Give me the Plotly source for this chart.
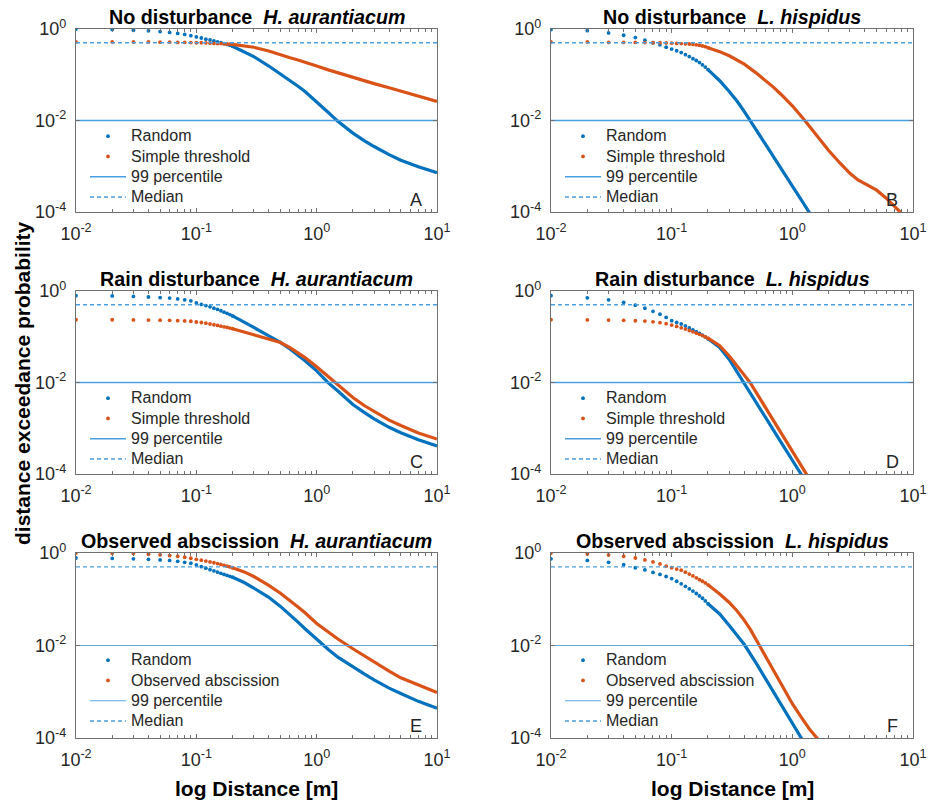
import plotly.graph_objects as go

W, H = 930, 801
FONT = "Liberation Sans"
BLUE = "#0072BD"
ORANGE = "#D95319"
REF = "#4A9FE0"
AXC = "#707070"
TXT = "#262626"

# ---------------- data ----------------
X_DOTS = [0.01, 0.02, 0.03, 0.04, 0.05, 0.06, 0.07, 0.08, 0.09, 0.10,
          0.11, 0.12, 0.13, 0.14, 0.15, 0.16, 0.17, 0.18, 0.19, 0.20]
X_LINE_FULL = [0.2, 0.25, 0.3, 0.4, 0.5, 0.6, 0.7, 0.8, 1.0, 1.25, 1.5, 2, 2.5, 3, 4, 5, 7, 10]

MEDIAN = 0.5
P99 = 0.01

# Panel A  No disturbance, H. aurantiacum
A_RAND_DOTS = [1.0, 0.97, 0.94, 0.91, 0.88, 0.84, 0.80, 0.76, 0.715, 0.67,
               0.635, 0.60, 0.575, 0.55, 0.525, 0.505, 0.48, 0.46, 0.44, 0.42]
A_RAND_LX = X_LINE_FULL
A_RAND_LY = [0.42, 0.32, 0.25, 0.155, 0.105, 0.075, 0.056, 0.043, 0.026, 0.015, 0.0096,
             0.0053, 0.0036, 0.0027, 0.0018, 0.00135, 0.00097, 0.00072]
A_THR_DOTS = [0.52, 0.52, 0.52, 0.52, 0.515, 0.515, 0.51, 0.51, 0.505, 0.50,
              0.50, 0.495, 0.49, 0.485, 0.48, 0.48, 0.475, 0.47, 0.465, 0.46]
A_THR_LX = X_LINE_FULL
A_THR_LY = [0.46, 0.43, 0.40, 0.33, 0.27, 0.235, 0.21, 0.19, 0.155, 0.128, 0.11,
            0.087, 0.074, 0.064, 0.052, 0.044, 0.034, 0.026]

# Panel B  No disturbance, L. hispidus
B_RAND_DOTS = [0.97, 0.92, 0.82, 0.73, 0.65, 0.57, 0.50, 0.45, 0.40, 0.365,
               0.335, 0.305, 0.275, 0.25, 0.225, 0.205, 0.185, 0.165, 0.147, 0.13]
B_RAND_LX = [0.2, 0.25, 0.3, 0.35, 0.4, 0.45, 0.5, 0.6, 0.7, 0.8, 1.0, 1.2, 1.4]
B_RAND_LY = [0.13, 0.074, 0.043, 0.026, 0.0156, 0.0099, 0.0063, 0.0030, 0.0016, 0.00092,
             0.00037, 0.000174, 0.000093]
B_THR_DOTS = [0.52, 0.52, 0.51, 0.51, 0.51, 0.505, 0.50, 0.50, 0.495, 0.49,
              0.485, 0.48, 0.475, 0.47, 0.46, 0.45, 0.44, 0.425, 0.41, 0.39]
B_THR_LX = [0.2, 0.25, 0.3, 0.35, 0.4, 0.5, 0.6, 0.7, 0.8, 1.0, 1.25, 1.5, 2, 2.5, 3,
            3.5, 4, 5, 6, 7, 8]
B_THR_LY = [0.39, 0.32, 0.26, 0.21, 0.17, 0.11, 0.075, 0.053, 0.038, 0.021, 0.0105, 0.0058,
            0.0022, 0.00115, 0.0007, 0.0005, 0.00041, 0.0003, 0.0002, 0.00013, 0.000095]

# Panel C  Rain disturbance, H. aurantiacum
C_RAND_DOTS = [0.79, 0.78, 0.76, 0.74, 0.72, 0.70, 0.67, 0.64, 0.61, 0.55,
               0.51, 0.48, 0.45, 0.42, 0.395, 0.37, 0.345, 0.325, 0.305, 0.285]
C_RAND_LX = X_LINE_FULL
C_RAND_LY = [0.285, 0.21, 0.16, 0.105, 0.075, 0.054, 0.040, 0.030, 0.018, 0.0098, 0.0065,
             0.0033, 0.0022, 0.0016, 0.00105, 0.00080, 0.00056, 0.00041]
C_THR_DOTS = [0.235, 0.235, 0.233, 0.232, 0.23, 0.228, 0.225, 0.222, 0.218, 0.21,
              0.205, 0.198, 0.19, 0.183, 0.177, 0.17, 0.165, 0.16, 0.155, 0.15]
C_THR_LX = X_LINE_FULL
C_THR_LY = [0.15, 0.128, 0.11, 0.09, 0.075, 0.058, 0.045, 0.035, 0.022, 0.0135, 0.0092,
            0.0047, 0.0031, 0.0023, 0.0015, 0.00115, 0.00079, 0.00058]

# Panel D  Rain disturbance, L. hispidus
D_RAND_DOTS = [0.79, 0.71, 0.64, 0.565, 0.49, 0.42, 0.36, 0.31, 0.265, 0.225,
               0.205, 0.19, 0.172, 0.156, 0.142, 0.13, 0.119, 0.109, 0.099, 0.09]
D_RAND_LX = [0.2, 0.25, 0.3, 0.35, 0.4, 0.5, 0.6, 0.7, 0.8, 1.0, 1.2]
D_RAND_LY = [0.09, 0.058, 0.032, 0.0165, 0.0093, 0.00365, 0.0017, 0.00089, 0.00051, 0.0002, 0.000093]
D_THR_DOTS = [0.235, 0.233, 0.231, 0.228, 0.224, 0.22, 0.212, 0.203, 0.193, 0.18,
              0.168, 0.157, 0.147, 0.137, 0.128, 0.12, 0.113, 0.106, 0.099, 0.093]
D_THR_LX = [0.2, 0.25, 0.3, 0.35, 0.4, 0.45, 0.5, 0.6, 0.7, 0.8, 1.0, 1.2, 1.35]
D_THR_LY = [0.093, 0.064, 0.038, 0.022, 0.0145, 0.0097, 0.0062, 0.0029, 0.00148, 0.00084,
            0.00033, 0.000145, 0.000087]

# Panel E  Observed abscission, H. aurantiacum
E_RAND_DOTS = [0.78, 0.765, 0.75, 0.73, 0.71, 0.69, 0.66, 0.63, 0.60, 0.55,
               0.506, 0.47, 0.436, 0.411, 0.385, 0.364, 0.345, 0.328, 0.313, 0.30]
E_RAND_LX = X_LINE_FULL
E_RAND_LY = [0.30, 0.23, 0.175, 0.11, 0.07, 0.047, 0.032, 0.023, 0.0135, 0.0082, 0.0056,
             0.0034, 0.0024, 0.0018, 0.0012, 0.00092, 0.00062, 0.00044]
E_THR_DOTS = [1.0, 0.985, 0.97, 0.94, 0.91, 0.88, 0.85, 0.81, 0.77, 0.73,
              0.70, 0.67, 0.64, 0.615, 0.59, 0.565, 0.54, 0.52, 0.50, 0.48]
E_THR_LX = X_LINE_FULL
E_THR_LY = [0.48, 0.39, 0.31, 0.20, 0.135, 0.095, 0.068, 0.051, 0.03, 0.0195, 0.0138,
            0.0085, 0.0059, 0.0043, 0.0028, 0.002, 0.0014, 0.00096]

# Panel F  Observed abscission, L. hispidus
F_RAND_DOTS = [0.75, 0.69, 0.63, 0.56, 0.48, 0.43, 0.38, 0.345, 0.31, 0.28,
               0.245, 0.215, 0.19, 0.168, 0.15, 0.133, 0.118, 0.105, 0.092, 0.08]
F_RAND_LX = [0.2, 0.25, 0.3, 0.35, 0.4, 0.5, 0.6, 0.7, 0.8, 1.0, 1.2]
F_RAND_LY = [0.08, 0.048, 0.027, 0.016, 0.0105, 0.0042, 0.0019, 0.00098, 0.00058, 0.00022, 0.000095]
F_THR_DOTS = [1.0, 0.95, 0.905, 0.85, 0.78, 0.71, 0.64, 0.58, 0.52, 0.48,
              0.45, 0.425, 0.385, 0.35, 0.32, 0.29, 0.265, 0.245, 0.225, 0.205]
F_THR_LX = [0.2, 0.25, 0.3, 0.35, 0.4, 0.45, 0.5, 0.6, 0.7, 0.8, 1.0, 1.2, 1.4, 1.6, 1.7]
F_THR_LY = [0.205, 0.13, 0.085, 0.055, 0.035, 0.022, 0.0135, 0.0057, 0.0028, 0.0015,
            0.00055, 0.00027, 0.00015, 0.0001, 0.000085]

TITLES = ["No disturbance", "No disturbance", "Rain disturbance", "Rain disturbance",
          "Observed abscission", "Observed abscission"]
SPECIES = ["H. aurantiacum", "L. hispidus"] * 3
SECOND_NAME = ["Simple threshold"] * 4 + ["Observed abscission"] * 2
LETTERS = ["A", "B", "C", "D", "E", "F"]

X_TICKS = [0.01, 0.1, 1, 10]
X_TICKTEXT = ["10<sup>-2</sup>", "10<sup>-1</sup>", "10<sup>0</sup>", "10<sup>1</sup>"]
Y_TICKS = [1e-4, 1e-2, 1]
Y_TICKTEXT = ["10<sup>-4</sup>", "10<sup>-2</sup>", "10<sup>0</sup>"]
X_MINOR = [k * 10.0 ** e for e in (-2, -1, 0) for k in range(2, 10)]

PANELS = [
    (A_RAND_DOTS, A_RAND_LX, A_RAND_LY, A_THR_DOTS, A_THR_LX, A_THR_LY),
    (B_RAND_DOTS, B_RAND_LX, B_RAND_LY, B_THR_DOTS, B_THR_LX, B_THR_LY),
    (C_RAND_DOTS, C_RAND_LX, C_RAND_LY, C_THR_DOTS, C_THR_LX, C_THR_LY),
    (D_RAND_DOTS, D_RAND_LX, D_RAND_LY, D_THR_DOTS, D_THR_LX, D_THR_LY),
    (E_RAND_DOTS, E_RAND_LX, E_RAND_LY, E_THR_DOTS, E_THR_LX, E_THR_LY),
    (F_RAND_DOTS, F_RAND_LX, F_RAND_LY, F_THR_DOTS, F_THR_LX, F_THR_LY),
]

# ---------------- layout geometry (pixels) ----------------
COLS = [(76, 437), (551, 913)]
ROWS = [(29, 212), (291, 474), (553, 738)]


def px(x):
    return x / W


def py(y):
    return 1 - y / H


def leg_name(s):
    return '<span style="font-size:16px">' + s + "</span>"


fig = go.Figure()
layout = dict(
    width=W, height=H, margin=dict(l=0, r=0, t=0, b=0, autoexpand=False),
    paper_bgcolor="white", plot_bgcolor="white",
    font=dict(family=FONT, color=TXT), showlegend=True,
)
annotations = []

for i, (rd, rlx, rly, td, tlx, tly) in enumerate(PANELS):
    r, c = divmod(i, 2)
    x0, x1 = COLS[c]
    y0, y1 = ROWS[r]
    sfx = "" if i == 0 else str(i + 1)
    xa, ya = "x" + sfx, "y" + sfx
    lg = "legend" + sfx
    thin = r == 2
    refw = 1.2 if thin else 1.5
    refc = "#5DA9E6" if thin else REF

    common = dict(xaxis=xa, yaxis=ya, legend=lg)
    fig.add_trace(go.Scatter(x=X_DOTS, y=rd, mode="markers", name=leg_name("Random"),
                             marker=dict(color=BLUE, size=3.8), **common))
    fig.add_trace(go.Scatter(x=rlx, y=rly, mode="lines", showlegend=False,
                             line=dict(color=BLUE, width=3.2),
                             hoverinfo="skip", **common))
    fig.add_trace(go.Scatter(x=X_DOTS, y=td, mode="markers", name=leg_name(SECOND_NAME[i]),
                             marker=dict(color=ORANGE, size=3.8), **common))
    fig.add_trace(go.Scatter(x=tlx, y=tly, mode="lines", showlegend=False,
                             line=dict(color=ORANGE, width=3.2),
                             hoverinfo="skip", **common))
    fig.add_trace(go.Scatter(x=[X_TICKS[0], X_TICKS[-1]], y=[P99, P99], mode="lines",
                             name=leg_name("99 percentile"),
                             line=dict(color=refc, width=refw), **common))
    fig.add_trace(go.Scatter(x=[X_TICKS[0], X_TICKS[-1]], y=[MEDIAN, MEDIAN], mode="lines",
                             name=leg_name("Median"),
                             line=dict(color=REF, width=1.3, dash="4px,3px"), **common))

    axcommon = dict(showline=True, linecolor=AXC, linewidth=1.3, mirror="ticks",
                    ticks="inside", tickcolor=AXC, ticklen=4, tickwidth=1,
                    showgrid=False, zeroline=False,
                    tickfont=dict(family=FONT, size=18, color=TXT))
    layout["xaxis" + sfx] = dict(
        type="log", range=[-2, 1], domain=[px(x0), px(x1)], anchor=ya,
        tickmode="array", tickvals=X_TICKS, ticktext=X_TICKTEXT,
        minor=dict(ticks="inside", ticklen=2.5, tickcolor=AXC, tickwidth=1,
                   tickmode="array", tickvals=X_MINOR, showgrid=False),
        ticklabelstandoff=5, **axcommon)
    layout["yaxis" + sfx] = dict(
        type="log", range=[-4, 0], domain=[py(y1), py(y0)], anchor=xa,
        tickmode="array", tickvals=Y_TICKS, ticktext=Y_TICKTEXT,
        ticklabelstandoff=5, **axcommon)

    layout[lg] = dict(
        x=px(x0 + 9), y=py(y0 + 92), xanchor="left", yanchor="top",
        bgcolor="rgba(255,255,255,0)", borderwidth=0, itemwidth=36,
        tracegroupgap=0, traceorder="normal",
        font=dict(family=FONT, size=13.3, color=TXT),
    )

    annotations.append(dict(
        x=px((x0 + x1) / 2), y=py(y0 - 12), xref="paper", yref="paper",
        xanchor="center", yanchor="middle", showarrow=False,
        text="<b>" + TITLES[i] + "\u00a0\u00a0<i>" + SPECIES[i] + "</i></b>",
        font=dict(family=FONT, size=19.7, color="black"),
    ))
    annotations.append(dict(
        x=px(x1 - 21), y=py(y1 - 12), xref="paper", yref="paper",
        xanchor="center", yanchor="middle", showarrow=False, text=LETTERS[i],
        font=dict(family=FONT, size=18, color=TXT),
    ))

for c, (x0, x1) in enumerate(COLS):
    annotations.append(dict(
        x=px((x0 + x1) / 2), y=py(788), xref="paper", yref="paper",
        xanchor="center", yanchor="middle", showarrow=False,
        text="<b>log Distance [m]</b>", font=dict(family=FONT, size=21, color="black"),
    ))
annotations.append(dict(
    x=px(22), y=py(383), xref="paper", yref="paper", textangle=-90,
    xanchor="center", yanchor="middle", showarrow=False,
    text="<b>distance exceedance probability</b>",
    font=dict(family=FONT, size=21, color="black"),
))

layout["annotations"] = annotations
fig.update_layout(**layout)
fig.write_html("out.html")
